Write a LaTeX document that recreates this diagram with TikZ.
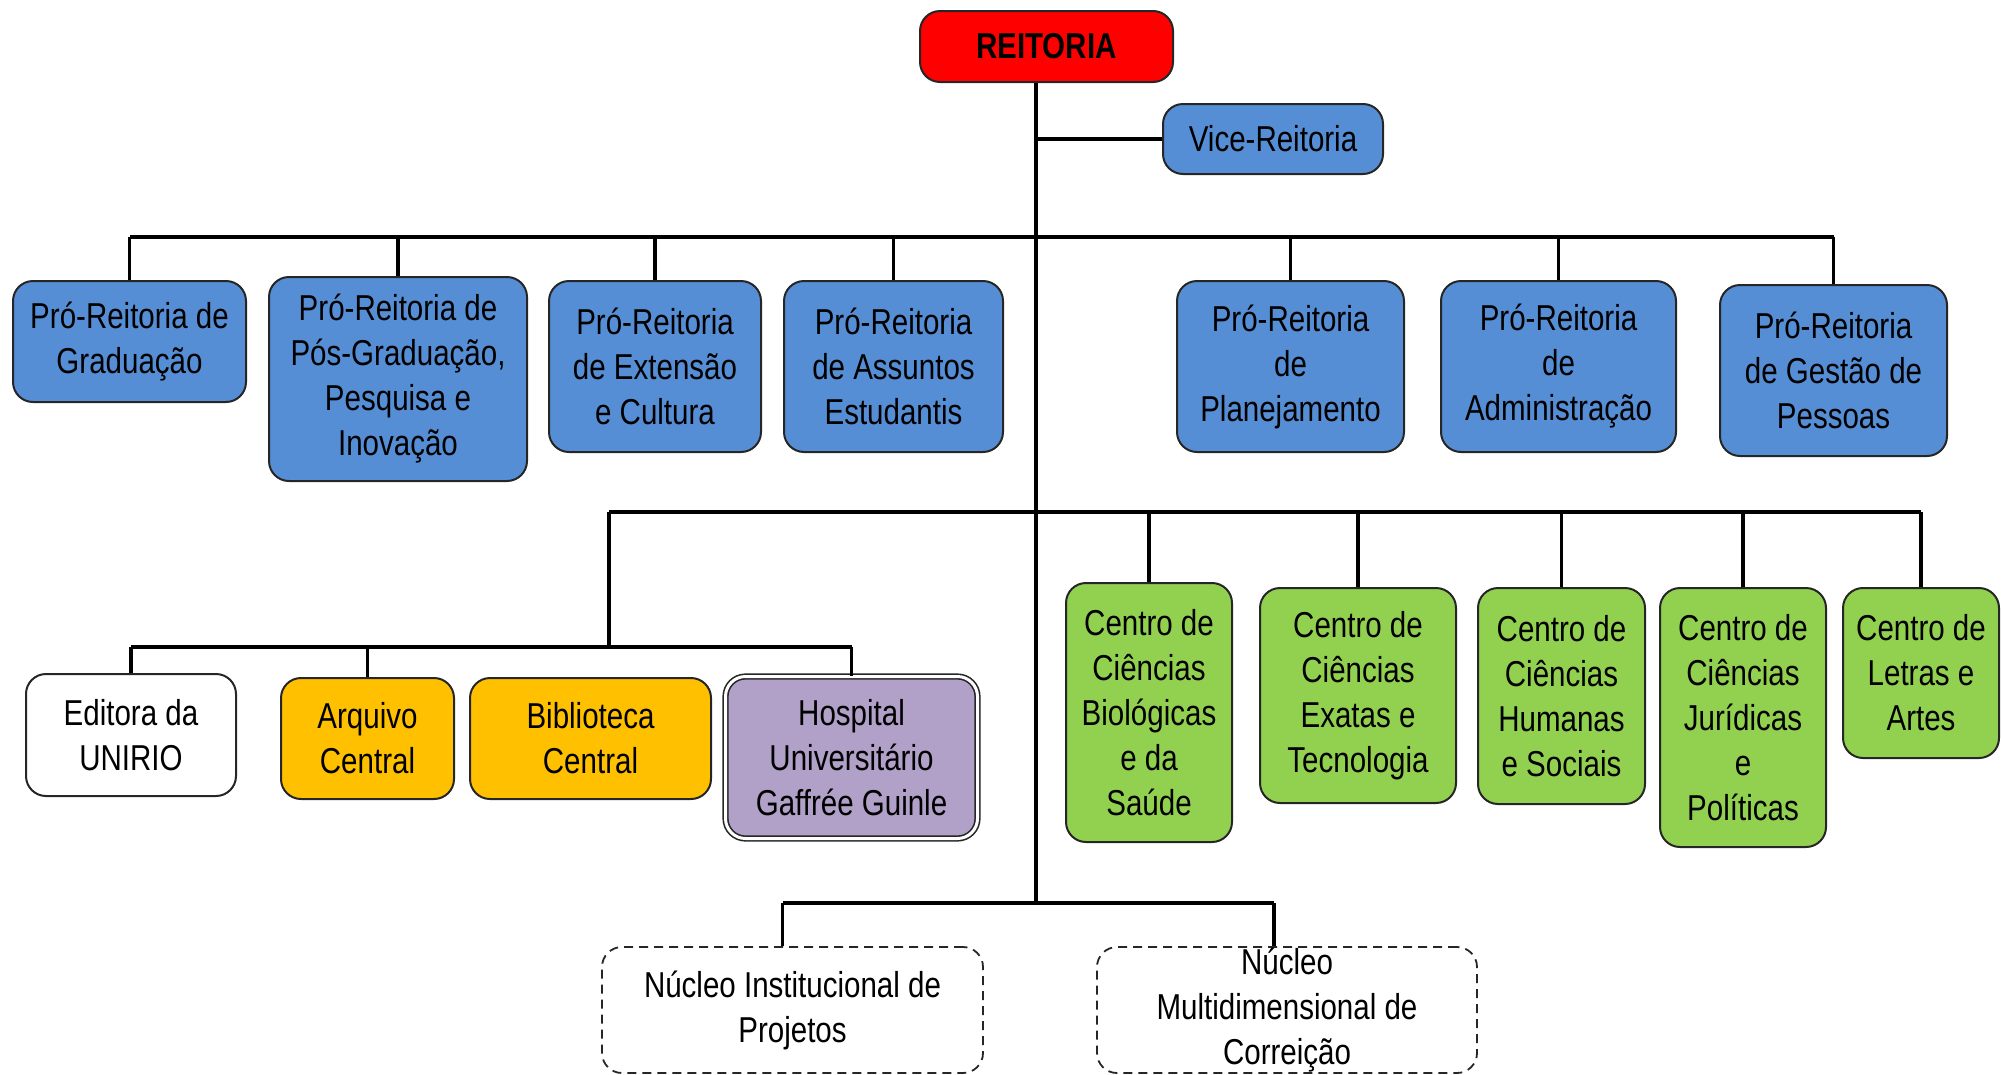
\documentclass[tikz,border=0pt]{standalone}
\usepackage{fontspec}
\setmainfont{Liberation Sans}[FakeStretch=0.82]
\definecolor{cblue}{RGB}{85,142,213}
\definecolor{cred}{RGB}{255,0,0}
\definecolor{corange}{RGB}{255,192,0}
\definecolor{cgreen}{RGB}{146,208,80}
\definecolor{cpurple}{RGB}{177,160,199}
\begin{document}
\begin{tikzpicture}[x=1pt,y=-1pt,
  box/.style={draw=black!85, line width=2pt, rounded corners=20pt, align=center, inner sep=0pt,
    font=\fontsize{36}{45}\selectfont},
  bluebox/.style={box, fill=cblue},
  greenbox/.style={box, fill=cgreen},
  orangebox/.style={box, fill=corange},
  dashbox/.style={box, fill=white, dash pattern=on 9pt off 6pt, line width=1.8pt},
  conn/.style={draw=black, line width=3.5pt}]
\useasboundingbox (0,0) rectangle (2001,1074);
% top
\node[box, fill=cred, minimum width=253pt, minimum height=71pt, font=\fontsize{36}{45}\selectfont\bfseries] (reit) at (1046.5,46.5) {REITORIA};
\node[bluebox, minimum width=220pt, minimum height=70pt] (vice) at (1273,139) {Vice-Reitoria};
% pro-reitorias
\node[bluebox, minimum width=233pt, minimum height=121pt] (gra) at (129.5,341.5) {Pró-Reitoria de\\Graduação};
\node[bluebox, minimum width=258pt, minimum height=204pt] (pos) at (398,379) {Pró-Reitoria de\\Pós-Graduação,\\Pesquisa e\\Inovação};
\node[bluebox, minimum width=212pt, minimum height=171pt] (ext) at (655,366.5) {Pró-Reitoria\\de Extensão\\e Cultura};
\node[bluebox, minimum width=219pt, minimum height=171pt] (ass) at (893.5,366.5) {Pró-Reitoria\\de Assuntos\\Estudantis};
\node[bluebox, minimum width=227pt, minimum height=171pt] (pla) at (1290.5,366.5) {Pró-Reitoria\\de\\Planejamento};
\node[bluebox, minimum width=235pt, minimum height=171pt] (adm) at (1558.5,366.5) {Pró-Reitoria\\de\\Administração};
\node[bluebox, minimum width=227pt, minimum height=171pt] (ges) at (1833.5,370.5) {Pró-Reitoria\\de Gestão de\\Pessoas};
% orgaos suplementares
\node[box, fill=white, minimum width=210pt, minimum height=122pt] (edi) at (131,735) {Editora da\\UNIRIO};
\node[orangebox, minimum width=173pt, minimum height=121pt] (arq) at (367.5,738.5) {Arquivo\\Central};
\node[orangebox, minimum width=241pt, minimum height=121pt] (bib) at (590.5,738.5) {Biblioteca\\Central};
\node[box, fill=cpurple, line width=1.6pt, double=white, double distance=3pt, minimum width=252pt, minimum height=162pt] (hos) at (851.5,757.5) {Hospital\\Universitário\\Gaffrée Guinle};
% centros
\node[greenbox, minimum width=166pt, minimum height=259pt] (ccbs) at (1149,712.5) {Centro de\\Ciências\\Biológicas\\e da\\Saúde};
\node[greenbox, minimum width=196pt, minimum height=215pt] (ccet) at (1358,695.5) {Centro de\\Ciências\\Exatas e\\Tecnologia};
\node[greenbox, minimum width=167pt, minimum height=216pt] (cch) at (1561.5,696) {Centro de\\Ciências\\Humanas\\e Sociais};
\node[greenbox, minimum width=166pt, minimum height=259pt] (ccjp) at (1743,717.5) {Centro de\\Ciências\\Jurídicas\\e\\Políticas};
\node[greenbox, minimum width=156pt, minimum height=170pt] (cla) at (1921,673) {Centro de\\Letras e\\Artes};
% nucleos
\node[dashbox, minimum width=381pt, minimum height=126pt] (nip) at (792.5,1010) {Núcleo Institucional de\\Projetos};
\node[dashbox, minimum width=380pt, minimum height=126pt] (nmc) at (1287,1010) {Núcleo\\Multidimensional de\\Correição};
% junctions
\coordinate (jv) at (1036,139);
\coordinate (jA) at (1036,237);
\coordinate (jB) at (1036,512);
\coordinate (jBl) at (609,512);
\coordinate (jS) at (609,647);
\coordinate (jC) at (1036,903);
% connectors
\draw[conn] ([xshift=-10.5pt]reit.south) -- (jC);
\draw[conn] (jv) -- (vice.west);
\draw[conn] (gra.north |- jA) -- (ges.north |- jA);
\foreach \n in {gra,pos,ext,ass,pla,adm,ges}{\draw[conn] (\n.north) -- (\n.north |- jA);}
\draw[conn] (jBl) -- (cla.north |- jB);
\foreach \n in {ccbs,ccet,cch,ccjp,cla}{\draw[conn] (\n.north) -- (\n.north |- jB);}
\draw[conn] (jBl) -- (jS);
\draw[conn] (edi.north |- jS) -- (hos.north |- jS);
\foreach \n in {edi,arq,hos}{\draw[conn] (\n.north) -- (\n.north |- jS);}
\draw[conn] ([xshift=-10pt]nip.north |- jC) -- ([xshift=-13pt]nmc.north |- jC);
\draw[conn] ([xshift=-10pt]nip.north) -- ([xshift=-10pt]nip.north |- jC);
\draw[conn] ([xshift=-13pt]nmc.north) -- ([xshift=-13pt]nmc.north |- jC);
\end{tikzpicture}
\end{document}
